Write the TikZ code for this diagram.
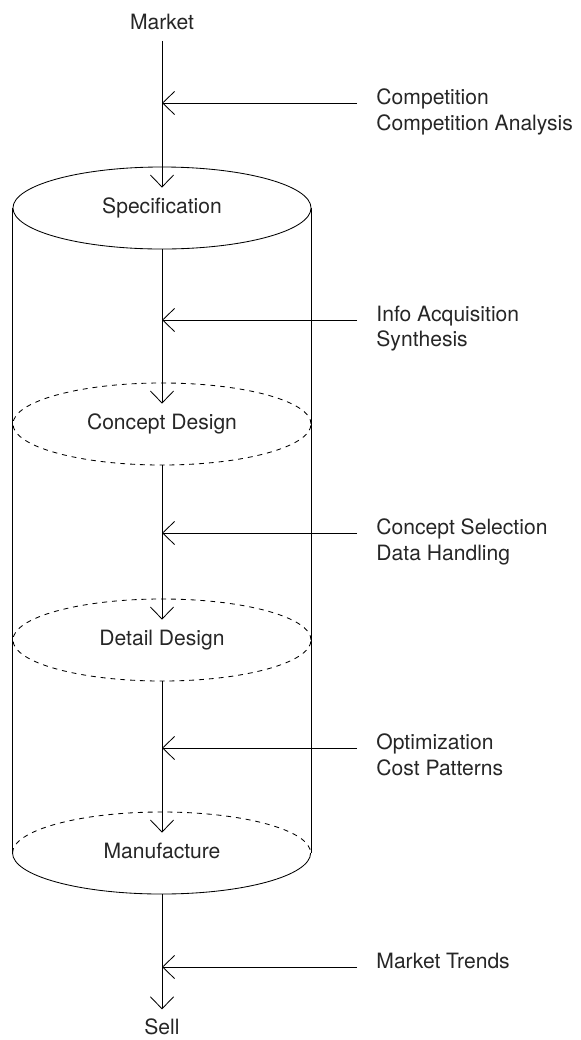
\documentclass[tikz,border=0pt]{standalone}
\usepackage{fontspec}
\setmainfont{TeX Gyre Heros}
\usepackage{tikz}
\usetikzlibrary{arrows.meta,positioning,calc,shapes.geometric}

\begin{document}
\begin{tikzpicture}[x=0.025cm, y=-0.025cm, line width=0.6pt,
  every node/.style={font=\fontsize{15}{18.4}\selectfont, text=black!85},
  flow/.style={-{Straight Barb[length=3mm,width=5.8mm]}},
  stage/.style={ellipse, minimum width=7.45cm, minimum height=2.05cm, inner sep=0pt},
  stagetxt/.style={text height=10.6pt, text depth=3pt, inner sep=7.4pt},
  hidden/.style={dash pattern=on 3.5pt off 3.5pt},
  note/.style={align=left, inner sep=0pt, anchor=north west}]
  \useasboundingbox (0,0) rectangle (580,1040);
  % design core
  \node[stage, draw] (specE) at (162,208) {};
  \node[stage, draw, hidden] (conE) at (162,424) {};
  \node[stage, draw, hidden] (detE) at (162,640) {};
  \node[stage] (manE) at (162,853) {};
  \draw[hidden] (manE.west) arc[start angle=180, end angle=0, x radius=3.725cm, y radius=1.025cm];
  \draw (manE.west) arc[start angle=180, end angle=360, x radius=3.725cm, y radius=1.025cm];
  \draw (specE.west) -- (manE.west);
  \draw (specE.east) -- (manE.east);
  \node[stagetxt] (spec) at (specE) {Specification};
  \node[stagetxt] (con) at (conE) {Concept Design};
  \node[stagetxt] (det) at (detE) {Detail Design};
  \node[stagetxt] (man) at (manE) {Manufacture};
  \node[anchor=base, inner sep=8pt] (market) at (162,29) {Market};
  \node[anchor=base, inner sep=6pt] (sell) at (162,1034) {Sell};
  % main flow
  \draw[flow] (market) -- (spec);
  \draw[flow] (specE) -- (con);
  \draw[flow] (conE) -- (det);
  \draw[flow] (detE) -- (man);
  \draw[flow] (manE) -- (sell);
  % inputs
  \foreach \y/\txt [count=\i] in {103/{Competition\\Competition Analysis},
      320/{Info Acquisition\\Synthesis}, 533/{Concept Selection\\Data Handling},
      748/{Optimization\\Cost Patterns}, 967/{Market Trends}} {
    \coordinate (in\i) at (357,\y);
    \node[note] (note\i) at ([xshift=0.475cm, yshift=0.37cm]in\i) {\txt};
    \draw[flow] (in\i) -- (in\i -| specE);
  }
\end{tikzpicture}
\end{document}
